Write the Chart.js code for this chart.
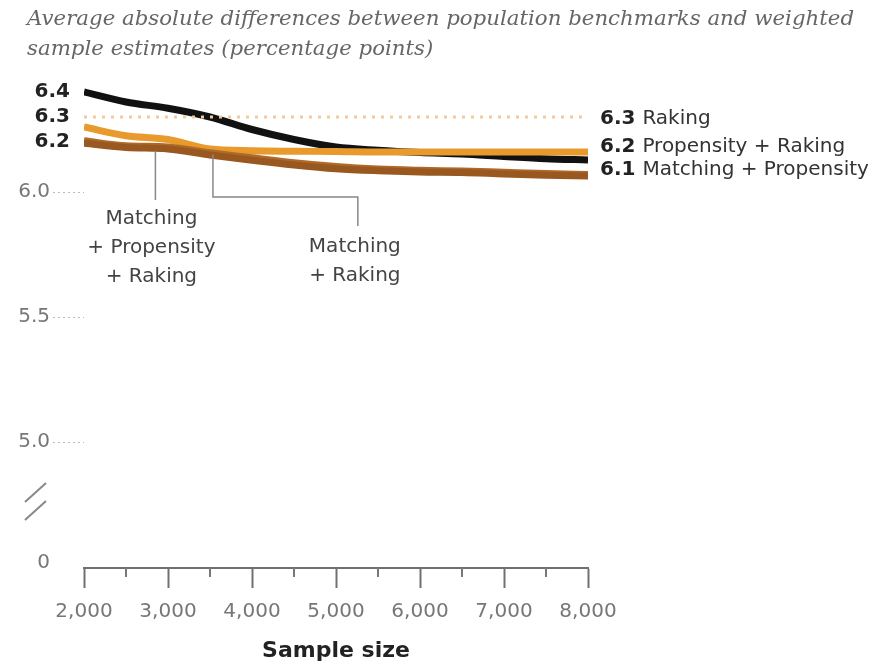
<!DOCTYPE html>
<html>
<head>
<meta charset="utf-8">
<script src="https://cdn.jsdelivr.net/npm/chart.js@4.4.0/dist/chart.umd.min.js"></script>
<style>
  html, body { margin: 0; padding: 0; background: #fff; }
  #wrap { position: relative; width: 875px; height: 664px; }
  #chart { position: absolute; left: 0; top: 0; }
  #title {
    position: absolute; left: 27px; top: 3px;
    font-family: 'DejaVu Serif'; font-style: italic; font-size: 21.3px;
    line-height: 30px; color: #666; white-space: nowrap;
  }
</style>
</head>
<body>
<div id="wrap">
  <canvas id="chart" width="875" height="664"></canvas>
  <div id="title">Average absolute differences between population benchmarks and weighted<br>sample estimates (percentage points)</div>
</div>
<script>
// sample sizes on the x axis
const sampleSizes = [2000, 2500, 3000, 3500, 4000, 4500, 5000, 5500, 6000, 6500, 7000, 7500, 8000]

// average absolute differences
const raking = [6.3, 6.3, 6.3, 6.3, 6.3, 6.3, 6.3, 6.3, 6.3, 6.3, 6.3, 6.3, 6.3]
const matchingPropensity = [6.40, 6.36, 6.335, 6.30, 6.25, 6.21, 6.18, 6.167, 6.158, 6.152, 6.142, 6.133, 6.128]
const propensityRaking = [6.26, 6.225, 6.21, 6.172, 6.165, 6.163, 6.162, 6.16, 6.16, 6.16, 6.16, 6.16, 6.16]
const matchingRaking = [6.205, 6.185, 6.18, 6.157, 6.137, 6.117, 6.102, 6.092, 6.087, 6.084, 6.079, 6.074, 6.07]
const matchingPropensityRaking = [6.195, 6.178, 6.172, 6.148, 6.127, 6.108, 6.093, 6.085, 6.08, 6.078, 6.072, 6.067, 6.064]

// axis ticks
const xTicks = [2000, 2500, 3000, 3500, 4000, 4500, 5000, 5500, 6000, 6500, 7000, 7500, 8000]
const yTicks = [4.516, 5.0, 5.5, 6.0]
const yTickLabels = ['0', '5.0', '5.5', '6.0']

// labels at the start and end of the lines
const startLabels = [[6.4, '6.4'], [6.3, '6.3'], [6.2, '6.2']]
const endLabels = [[6.292, '6.3', 'Raking'], [6.18, '6.2', 'Propensity + Raking'], [6.088, '6.1', 'Matching + Propensity']]

const FONT = 'DejaVu Sans'

const toPoints = ys => ys.map((y, i) => ({x: sampleSizes[i], y: y}))

const lineSet = (label, data, color) => ({
	label: label,
	data: toPoints(data),
	borderColor: color,
	borderWidth: 7,
	borderCapStyle: 'butt',
	pointRadius: 0,
	cubicInterpolationMode: 'monotone'
})

const annotations = {
	id: 'annotations',
	afterDraw(chart) {
		const {ctx, chartArea: area, scales: {x, y}} = chart
		ctx.save()

		// minor ticks on the x axis
		ctx.strokeStyle = '#777'
		ctx.lineWidth = 2
		xTicks.filter(v => v % 1000 !== 0).forEach(v => {
			const px = x.getPixelForValue(v)
			ctx.beginPath()
			ctx.moveTo(px, area.bottom)
			ctx.lineTo(px, area.bottom + 9)
			ctx.stroke()
		})

		// axis break marks
		ctx.strokeStyle = '#888'
		ctx.lineWidth = 2
		;[[502, 483], [520, 501]].forEach(([a, b]) => {
			ctx.beginPath()
			ctx.moveTo(25, a)
			ctx.lineTo(46, b)
			ctx.stroke()
		})

		// start values
		ctx.fillStyle = '#222'
		ctx.font = 'bold 20px ' + FONT
		ctx.textAlign = 'right'
		ctx.textBaseline = 'middle'
		startLabels.forEach(([v, t]) => ctx.fillText(t, area.left - 14, y.getPixelForValue(v)))

		// end labels
		ctx.textAlign = 'left'
		endLabels.forEach(([v, num, name]) => {
			const py = y.getPixelForValue(v)
			ctx.font = 'bold 20px ' + FONT
			ctx.fillStyle = '#222'
			ctx.fillText(num, area.right + 12, py)
			const w = ctx.measureText(num + ' ').width
			ctx.font = '20px ' + FONT
			ctx.fillStyle = '#333'
			ctx.fillText(name, area.right + 12 + w, py)
		})

		// callouts
		ctx.strokeStyle = '#888'
		ctx.lineWidth = 1.5
		const c1 = x.getPixelForValue(2850)
		ctx.beginPath()
		ctx.moveTo(c1, y.getPixelForValue(6.165))
		ctx.lineTo(c1, 200)
		ctx.stroke()
		const c2 = x.getPixelForValue(3535)
		const c3 = x.getPixelForValue(5260)
		ctx.beginPath()
		ctx.moveTo(c2, y.getPixelForValue(6.15))
		ctx.lineTo(c2, 197)
		ctx.lineTo(c3, 197)
		ctx.lineTo(c3, 226)
		ctx.stroke()

		ctx.fillStyle = '#444'
		ctx.font = '20px ' + FONT
		ctx.textAlign = 'center'
		;['Matching', '+ Propensity', '+ Raking'].forEach((t, i) => ctx.fillText(t, c1 - 4, 219 + i * 29))
		;['Matching', '+ Raking'].forEach((t, i) => ctx.fillText(t, c3 - 3, 247 + i * 29))

		ctx.restore()
	}
}

const chart = new Chart(document.getElementById('chart'), {
	type: 'line',
	data: {
		datasets: [
			{
				label: 'Raking',
				data: toPoints(raking),
				borderColor: '#f3c99d',
				borderWidth: 3,
				borderDash: [3, 6],
				pointRadius: 0
			},
			lineSet('Matching + Propensity + Raking', matchingPropensityRaking, '#985820'),
			lineSet('Matching + Raking', matchingRaking, '#b06a28'),
			lineSet('Propensity + Raking', propensityRaking, '#e99a2c'),
			lineSet('Matching + Propensity', matchingPropensity, '#111111')
		]
	},
	options: {
		responsive: false,
		devicePixelRatio: 1,
		animation: false,
		layout: {padding: {top: 80, right: 287, left: 0, bottom: 0}},
		plugins: {legend: {display: false}, tooltip: {enabled: false}},
		scales: {
			x: {
				type: 'linear',
				min: 2000,
				max: 8000,
				afterBuildTicks: s => { s.ticks = xTicks.map(v => ({value: v})) },
				afterFit: s => { s.height = 96 },
				border: {display: true, color: '#707070', width: 2},
				grid: {
					drawOnChartArea: false,
					tickLength: 20,
					tickWidth: 2,
					tickColor: c => (c.tick && c.tick.value % 1000 === 0) ? '#707070' : 'rgba(0,0,0,0)'
				},
				ticks: {
					autoSkip: false,
					maxRotation: 0,
					padding: 12,
					color: '#777',
					font: {family: FONT, size: 20},
					callback: v => v % 1000 === 0 ? v.toLocaleString('en-US') : ''
				},
				title: {
					display: true,
					text: 'Sample size',
					color: '#222',
					font: {family: FONT, size: 22, weight: 'bold'},
					padding: {top: 0, bottom: 0}
				}
			},
			y: {
				type: 'linear',
				min: 4.496,
				max: 6.448,
				afterBuildTicks: s => { s.ticks = yTicks.map(v => ({value: v})) },
				afterFit: s => { s.width = 84 },
				border: {display: false},
				grid: {
					drawOnChartArea: false,
					tickLength: 31,
					tickWidth: 1,
					tickBorderDash: [2, 3],
					tickColor: c => (c.tick && c.tick.value < 5) ? 'rgba(0,0,0,0)' : '#bbb'
				},
				ticks: {
					padding: 3,
					color: '#777',
					font: {family: FONT, size: 20},
					callback: (v, i) => yTickLabels[i]
				}
			}
		}
	},
	plugins: [annotations]
})
</script>
</body>
</html>
